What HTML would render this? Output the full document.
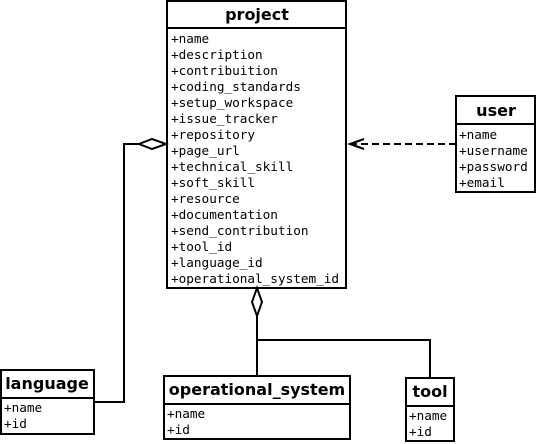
<!DOCTYPE html>
<html><head><style>body{margin:0;background:#fff}</style></head><body>
<svg width="537" height="444" xmlns="http://www.w3.org/2000/svg" style="display:block">
<g fill="#fff" stroke="#000" stroke-width="2">
<rect x="167" y="1" width="179" height="287"/>
<line x1="167" y1="28" x2="346" y2="28"/>
<rect x="456" y="96" width="79" height="96"/>
<line x1="456" y1="124" x2="535" y2="124"/>
<rect x="1" y="370" width="93" height="64"/>
<line x1="1" y1="398" x2="94" y2="398"/>
<rect x="164" y="376" width="186" height="63"/>
<line x1="164" y1="404" x2="350" y2="404"/>
<rect x="406" y="378" width="48" height="63"/>
<line x1="406" y1="406" x2="454" y2="406"/>
</g>
<g fill="none" stroke="#000" stroke-width="2">
<polyline points="94,402 124,402 124,144 139,144"/>
<polygon points="139,144 152,139 166,144 152,149" fill="#fff"/>
<line x1="456" y1="144" x2="352" y2="144" stroke-dasharray="7,4"/>
<polyline points="364,139 350,144 364,149"/>
<polygon points="257,288 262,302 257,316 252,302" fill="#fff"/>
<polyline points="257,316 257,376"/>
<polyline points="257,340 430,340 430,378"/>
</g>
<g font-family="'DejaVu Sans','Liberation Sans',sans-serif" font-weight="bold" font-size="16" text-anchor="middle">
<text x="257" y="20">project</text>
<text x="496" y="116">user</text>
<text x="47" y="389">language</text>
<text x="257" y="395">operational_system</text>
<text x="430" y="397">tool</text>
</g>
<g font-family="'DejaVu Sans Mono','Liberation Mono',monospace" font-size="12.7">
<text x="171" y="43">+name</text>
<text x="171" y="59">+description</text>
<text x="171" y="75">+contribuition</text>
<text x="171" y="91">+coding_standards</text>
<text x="171" y="107">+setup_workspace</text>
<text x="171" y="123">+issue_tracker</text>
<text x="171" y="139">+repository</text>
<text x="171" y="155">+page_url</text>
<text x="171" y="171">+technical_skill</text>
<text x="171" y="187">+soft_skill</text>
<text x="171" y="203">+resource</text>
<text x="171" y="219">+documentation</text>
<text x="171" y="235">+send_contribution</text>
<text x="171" y="251">+tool_id</text>
<text x="171" y="267">+language_id</text>
<text x="171" y="283">+operational_system_id</text>
<text x="459" y="139">+name</text>
<text x="459" y="155">+username</text>
<text x="459" y="171">+password</text>
<text x="459" y="187">+email</text>
<text x="4" y="412">+name</text>
<text x="4" y="428">+id</text>
<text x="167" y="418">+name</text>
<text x="167" y="434">+id</text>
<text x="409" y="420">+name</text>
<text x="409" y="436">+id</text>
</g>
</svg>
</body></html>
